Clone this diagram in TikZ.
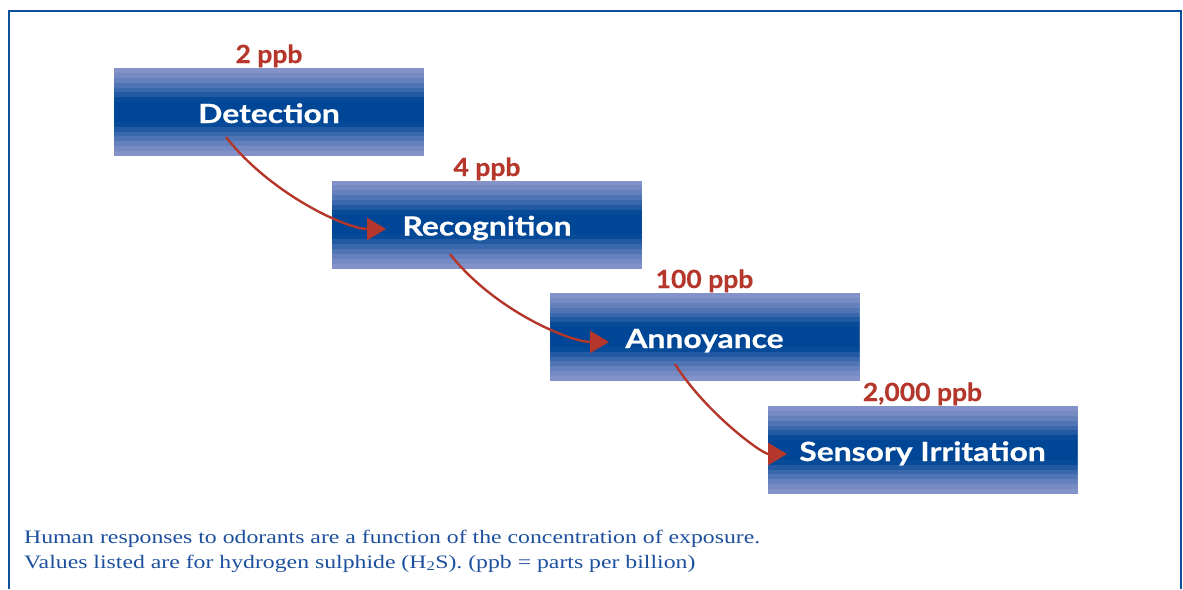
\documentclass[tikz,border=0pt]{standalone}
\usepackage{fontspec}
\usetikzlibrary{calc,arrows.meta}
\newfontfamily\boxfont{Lato}[FakeStretch=1.2,BoldFeatures={FakeBold=0.6}]
\newfontfamily\lblfont{Lato}[FakeStretch=1.06,BoldFeatures={FakeBold=0.6}]
\newfontfamily\capfont{Liberation Serif}[FakeStretch=1.25]
\definecolor{darkb}{RGB}{0,70,150}
\definecolor{lightb}{RGB}{132,148,202}
\definecolor{framec}{RGB}{12,80,156}
\definecolor{capc}{RGB}{28,80,158}
\definecolor{arrred}{RGB}{181,55,43}
\tikzset{
  stagebox/.style={minimum width=310pt, minimum height=88pt, inner sep=0pt,
    text height=22pt, text depth=0pt,
    fill=lightb, text=white,
    font=\boxfont\bfseries\fontsize{26.5}{30}\selectfont,
    path picture={
      \foreach \i in {0,...,17}{
        \pgfmathsetmacro\d{abs(2*\i+1-18)/18}
        \pgfmathsetmacro\u{max(0,min(1,(0.97-\d)/0.72))}
        \pgfmathtruncatemacro\t{100*\u^1.3}
        \fill[darkb!\t!lightb]
          ($(path picture bounding box.north west)!{\i/18}!(path picture bounding box.south west)$)
          rectangle
          ($(path picture bounding box.north east)!{(\i+1.05)/18}!(path picture bounding box.south east)$);
      }
    }},
  ppblabel/.style={anchor=base, text=arrred, inner sep=0pt,
    font=\lblfont\bfseries\fontsize{25}{30}\selectfont},
  stagearrow/.style={draw=arrred, line width=2.4pt,
    -{Triangle[length=19pt,width=22pt]}},
  captext/.style={anchor=base west, inner sep=0pt, text=capc,
    font=\capfont\fontsize{19}{25}\selectfont}
}
\begin{document}
\begin{tikzpicture}[x=1pt,y=-1pt]
\useasboundingbox (0,0) rectangle (1183,589);
% frame
\draw[framec, line width=2pt] (9,589) -- (9,11) -- (1181,11) -- (1181,589);
% boxes
\node[stagebox] (b1) at (269,112) {Detection};
\node[stagebox] (b2) at (487,224.5) {Recognition};
\node[stagebox] (b3) at (704.5,337) {Annoyance};
\node[stagebox] (b4) at (922.5,450) {Sensory Irritation};
% labels
\node[ppblabel] (l1) at (269,63) {2 ppb};
\node[ppblabel] (l2) at (487,176) {4 ppb};
\node[ppblabel] (l3) at (704.5,288) {100 ppb};
\node[ppblabel] (l4) at (922.5,401) {2,000 ppb};
% arrow coordinates
\coordinate (s1) at (226,137);
\coordinate (t1) at (386,229);
\coordinate (s2) at (450,254);
\coordinate (t2) at (609,342);
\coordinate (s3) at (675,364);
\coordinate (t3) at (787,454);
\draw[stagearrow] (s1) to[out=-52,in=180,in looseness=0.55] (t1);
\draw[stagearrow] (s2) to[out=-52,in=180,in looseness=0.55] (t2);
\draw[stagearrow] (s3) to[out=-58,in=180,in looseness=0.45] (t3);
% caption
\node[captext] (c1) at (24,543) {Human responses to odorants are a function of the concentration of exposure.};
\node[captext] (c2) at (24,568) {Values listed are for hydrogen sulphide (H\textsubscript{2}S). (ppb = parts per billion)};
\end{tikzpicture}
\end{document}
